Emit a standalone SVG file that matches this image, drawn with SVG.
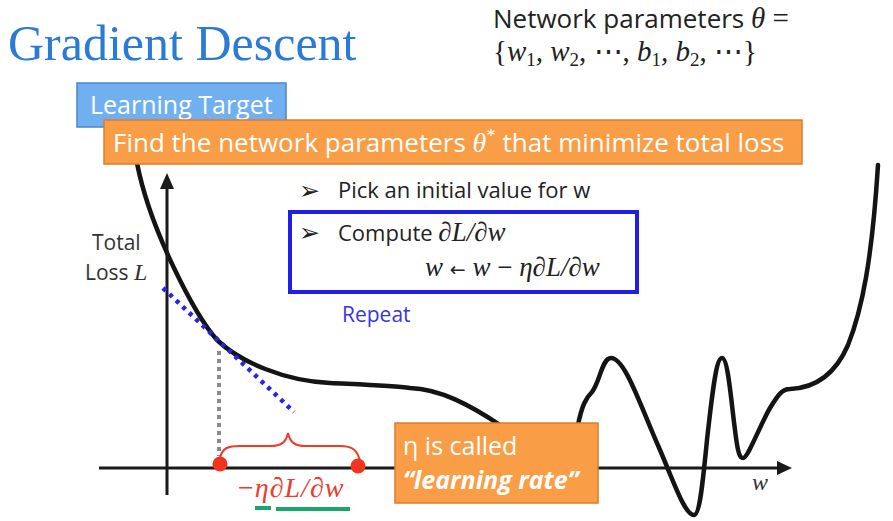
<svg xmlns="http://www.w3.org/2000/svg" width="893" height="521" viewBox="0 0 893 521">
  <defs>
    <style>
      .sans { font-family: "Open Sans", "Liberation Sans", sans-serif; }
      .math { font-family: "Liberation Serif", "DejaVu Serif", serif; font-style: italic; }
      .upr  { font-family: "Liberation Serif", "DejaVu Serif", serif; font-style: normal; }
      .ink  { fill: #222; }
      .white { fill: #fff; }
      .bullet { font-family: "DejaVu Sans", sans-serif; font-size: 25px; fill: #222; }
      .curve { fill: none; stroke: #141414; stroke-width: 4.5; stroke-linecap: round; stroke-linejoin: round; }
      .axis { fill: none; stroke: #1a1a1a; stroke-width: 3; }
      .orange { fill: #f99d46; stroke: #dc7c2c; stroke-width: 1.5; }
    </style>
  </defs>

  <rect width="893" height="521" fill="#ffffff"/>

  <!-- heading -->
  <g id="title">
    <text x="8" y="60" font-family="Liberation Serif, serif" font-size="50" fill="#2b7bd6">Gradient Descent</text>
  </g>

  <!-- parameter set -->
  <g id="params">
    <text x="493" y="28" font-size="26" class="ink"><tspan class="sans">Network parameters </tspan><tspan class="math" font-size="29">θ</tspan><tspan class="upr" font-size="29"> =</tspan></text>
    <text x="493" y="61" class="math ink" font-size="29"><tspan class="upr">{</tspan>w<tspan font-size="19" dy="5" class="upr">1</tspan><tspan dy="-5">, w</tspan><tspan font-size="19" dy="5" class="upr">2</tspan><tspan dy="-5" class="upr">, ⋯, </tspan>b<tspan font-size="19" dy="5" class="upr">1</tspan><tspan dy="-5">, b</tspan><tspan font-size="19" dy="5" class="upr">2</tspan><tspan dy="-5" class="upr">, ⋯}</tspan></text>
  </g>

  <!-- loss curve -->
  <g id="loss-curve">
    <path class="curve" d="M137,163 C150,230 195,315 217,340 C240,362 285,381 330,383 C370,385 395,386 410,388 C440,389 470,405 500,425 C530,445 560,450 578,425 C582,405 586,398 592,392 C600,382 602,358 611,358 C625,358 640,405 660,450 C675,485 685,515 694,515 C700,515 703,480 707,440 C712,395 716,358 722,358 C728,358 731,400 735,430 C738,455 740,458 743,458 C748,458 760,425 770,408 C778,395 782,389 790,389 C815,388 835,375 848,345 C862,310 872,260 878,165"/>
  </g>

  <!-- axes -->
  <g id="axes">
    <line class="axis" x1="167" y1="495" x2="167" y2="186"/>
    <polygon points="167,173 160,189 174,189" fill="#1a1a1a"/>
    <line class="axis" x1="99" y1="468" x2="778" y2="468"/>
    <polygon points="792,468 777,461 777,475" fill="#1a1a1a"/>
    <text x="752" y="490" class="math" font-size="24" fill="#333">w</text>
    <text x="92" y="250" class="sans" font-size="21" fill="#333">Total</text>
    <text x="85" y="280" font-size="21" fill="#333"><tspan class="sans">Loss </tspan><tspan class="math" font-size="24">L</tspan></text>
  </g>

  <!-- tangent and step -->
  <g id="connectors">
    <line x1="163" y1="288" x2="294" y2="412" stroke="#2424ee" stroke-width="4.5" stroke-dasharray="4 5"/>
    <line x1="219" y1="351" x2="219" y2="456" stroke="#8a8a8a" stroke-width="4" stroke-dasharray="4 4"/>
    <path d="M220,458 C222,448 228,446 240,446 L270,446 C282,446 286,442 288,433 C290,442 294,446 306,446 L340,446 C352,446 358,450 360,462" fill="none" stroke="#ee3b2a" stroke-width="2"/>
    <circle cx="220" cy="464" r="7.5" fill="#f0341f"/>
    <circle cx="358" cy="466" r="7.5" fill="#f0341f"/>
    <text x="238" y="497" class="math" font-size="28" letter-spacing="1" fill="#ee3b2a"><tspan class="upr">−</tspan>η∂L/∂w</text>
    <line x1="255" y1="508" x2="271" y2="508" stroke="#19a66a" stroke-width="4"/>
    <line x1="276" y1="509" x2="350" y2="509" stroke="#19a66a" stroke-width="4"/>
  </g>

  <!-- learning target labels -->
  <g id="learning-target">
    <rect x="77" y="83" width="209" height="44" fill="#71b0f0" stroke="#4a86c8" stroke-width="1.5"/>
    <text x="90" y="114" class="sans white" font-size="25">Learning Target</text>
  </g>
  <g id="objective">
    <rect class="orange" x="104" y="120" width="698" height="44"/>
    <text x="113" y="152" class="white" font-size="26"><tspan class="sans">Find the network parameters </tspan><tspan class="math" font-size="28">θ</tspan><tspan class="upr" font-size="19" dy="-10">*</tspan><tspan class="sans" dy="10"> that minimize total loss</tspan></text>
  </g>

  <!-- procedure -->
  <g id="step-init">
    <text x="299" y="199" class="bullet">➢</text>
    <text x="338" y="198" class="sans" font-size="22" fill="#222">Pick an initial value for w</text>
  </g>
  <g id="step-update">
    <rect x="290" y="212" width="347" height="80" fill="none" stroke="#1f1fe8" stroke-width="4"/>
    <text x="299" y="241" class="bullet">➢</text>
    <text x="338" y="241" font-size="22" fill="#222"><tspan class="sans">Compute </tspan><tspan class="math" font-size="27">∂L/∂w</tspan></text>
    <text x="425" y="276" class="math" font-size="27" fill="#222">w <tspan font-family="DejaVu Sans, sans-serif" font-style="normal" font-size="19">←</tspan> w <tspan class="upr">−</tspan> η∂L/∂w</text>
  </g>
  <g id="repeat-label">
    <text x="342" y="322" class="sans" font-size="21" fill="#3535e6">Repeat</text>
  </g>

  <!-- learning rate note -->
  <g id="learning-rate">
    <rect class="orange" x="395" y="423" width="203" height="80"/>
    <text x="403" y="455" class="sans white" font-size="25">η is called</text>
    <text x="403" y="489" class="sans white" font-size="25" font-weight="bold" font-style="italic">“learning rate”</text>
  </g>
</svg>
